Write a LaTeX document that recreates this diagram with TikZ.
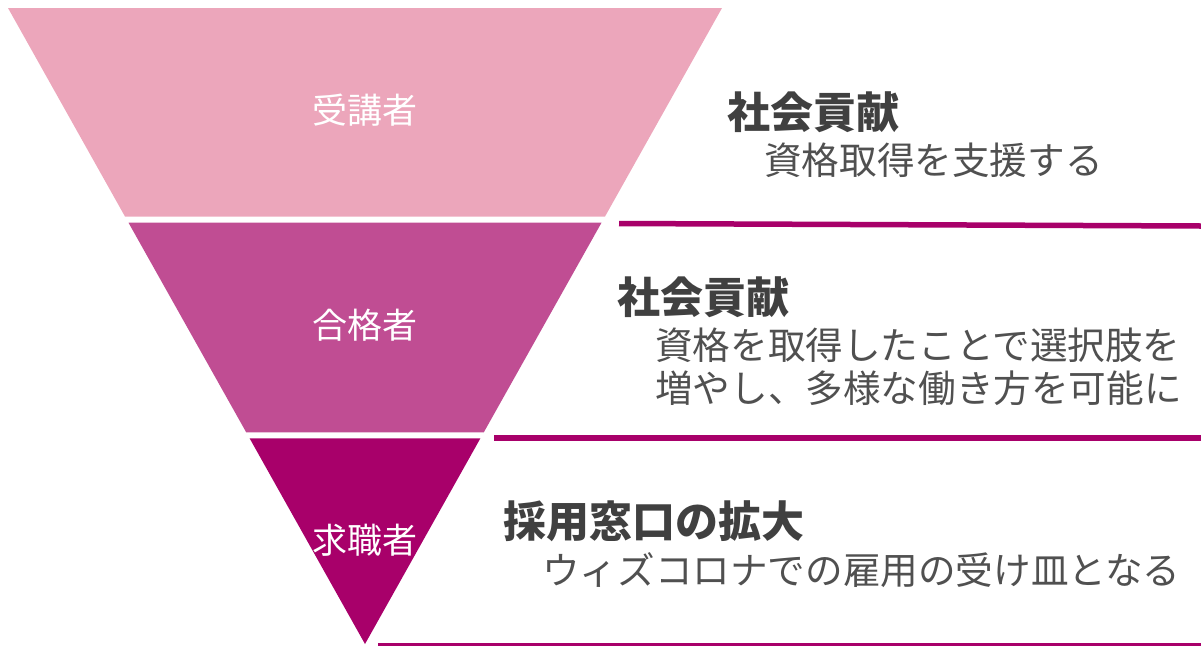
\documentclass[tikz,border=0pt]{standalone}
\usepackage{fontspec}
\setmainfont{Noto Sans CJK JP}
\definecolor{bandA}{HTML}{ECA6BB}
\definecolor{bandB}{HTML}{C04D93}
\definecolor{bandC}{HTML}{A8006A}
\definecolor{ttl}{HTML}{404040}
\definecolor{subt}{HTML}{505050}
\begin{document}
\begin{tikzpicture}[x=1pt,y=-1pt,
  lvl/.style={text=white,font=\fontsize{35}{40}\selectfont,inner sep=0pt},
  headtxt/.style={text=ttl,font=\bfseries\fontsize{43}{48}\selectfont,anchor=west,inner sep=0pt},
  subtxt/.style={text=subt,font=\fontsize{37.6}{42}\selectfont,anchor=west,inner sep=0pt},
  sep/.style={draw=bandC,line width=5.5pt}]
\useasboundingbox (0,0) rectangle (1201,646);
% bands
\fill[bandA] (8,8) -- (722,8) -- (604.9,216.7) -- (125.1,216.7) -- cycle;
\fill[bandB] (128.5,222.7) -- (601.5,222.7) -- (483.8,432.3) -- (246.2,432.3) -- cycle;
\fill[bandC] (249.6,438.3) -- (480.4,438.3) -- (365,644) -- cycle;
% separator lines
\coordinate (l1a) at (619,223.5); \coordinate (l1b) at (1201,226);
\coordinate (l2a) at (494,437.5); \coordinate (l2b) at (1201,437.5);
\coordinate (l3a) at (378,644.5); \coordinate (l3b) at (1201,644.5);
\draw[sep] (l1a) -- (l1b);
\draw[sep,line width=6pt] (l2a) -- (l2b);
\draw[sep,line width=3pt] (l3a) -- (l3b);
% level labels
\node[lvl] (n1) at (365,110) {受講者};
\node[lvl] (n2) at (365,325) {合格者};
\node[lvl] (n3) at (365,540) {求職者};
% right texts
\node[headtxt] (h1) at (727,112) {社会貢献};
\node[subtxt] (s1) at (764,160) {資格取得を支援する};
\node[headtxt] (h2) at (617,297) {社会貢献};
\node[subtxt] (s2a) at (655,345) {資格を取得したことで選択肢を};
\node[subtxt] (s2b) at (655,388) {増やし、多様な働き方を可能に};
\node[headtxt] (h3) at (503,521) {採用窓口の拡大};
\node[subtxt] (s3) at (542,570) {ウィズコロナでの雇用の受け皿となる};
\end{tikzpicture}
\end{document}
